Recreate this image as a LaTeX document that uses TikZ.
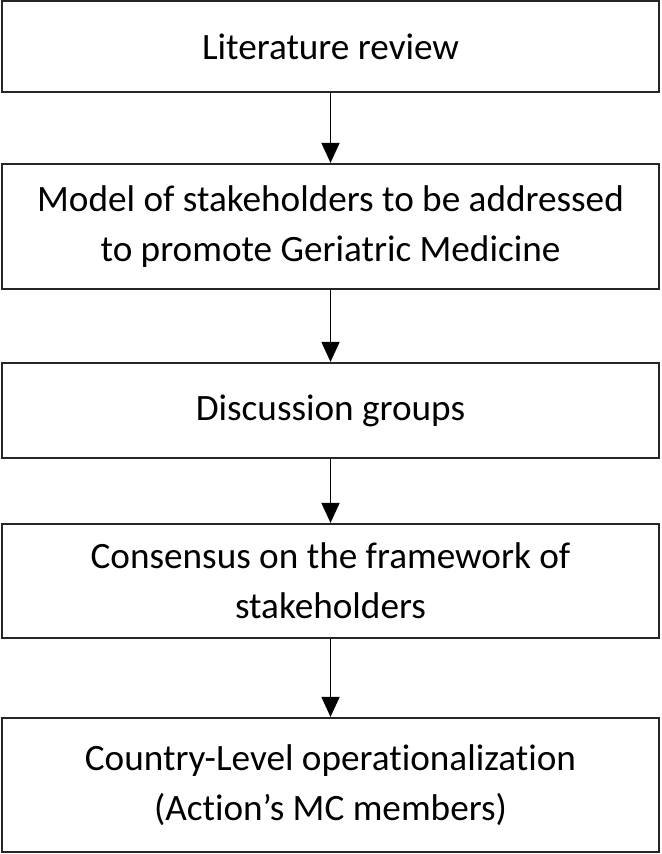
\documentclass[tikz,border=0pt]{standalone}
\usepackage{fontspec}
\setmainfont{Carlito}[Ligatures=NoCommon]
\usetikzlibrary{arrows.meta,positioning}

\begin{document}
\begin{tikzpicture}[
    x=0.5pt, y=-0.5pt,
    node font=\fontsize{18.6}{25}\selectfont,
    >={Triangle[length=10pt, width=9pt]},
    step box/.style={draw=black!85, line width=1.1pt, fill=white, align=center,
        minimum width=328.5pt, inner sep=0pt},
    flow arrow/.style={->, line width=0.8pt},
]

\useasboundingbox (0,0) rectangle (661,854);

% Steps
\node[step box, minimum height=45.5pt] (lit) at (330.5,46.5) {Literature review};
\node[step box, minimum height=62.5pt] (model) at (330.5,226.5)
    {Model of stakeholders to be addressed\\to promote Geriatric Medicine};
\node[step box, minimum height=47.5pt] (disc) at (330.5,410.5) {Discussion groups};
\node[step box, minimum height=57pt] (cons) at (330.5,581)
    {Consensus on the framework of\\stakeholders};
\node[step box, minimum height=67pt] (country) at (330.5,785)
    {Country-Level operationalization\\(Action’s MC members)};

% Arrows
\draw[flow arrow] (lit) -- (model);
\draw[flow arrow] (model) -- (disc);
\draw[flow arrow] (disc) -- (cons);
\draw[flow arrow] (cons) -- (country);

\end{tikzpicture}
\end{document}
